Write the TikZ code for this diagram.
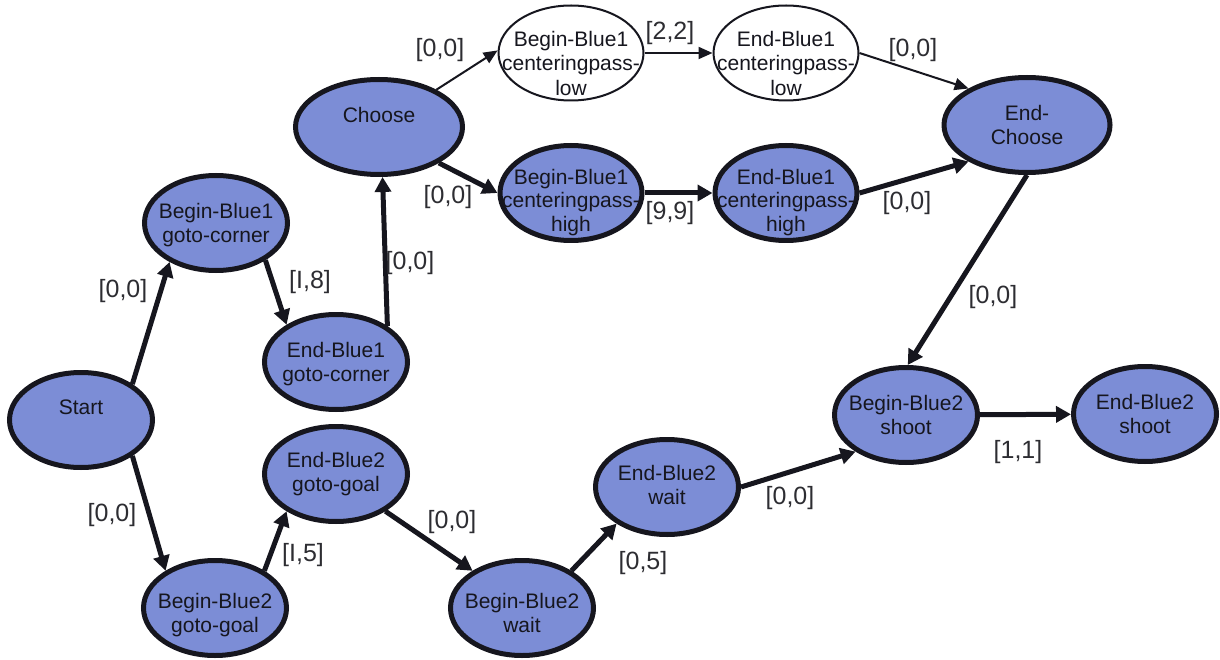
\documentclass[tikz,border=0pt]{standalone}
\usepackage{fontspec}
\setmainfont{Liberation Sans}
\usetikzlibrary{shapes.geometric,arrows.meta}
\definecolor{nodeblue}{RGB}{124,141,214}
\definecolor{inkc}{RGB}{22,22,30}
\definecolor{lblc}{RGB}{45,45,50}
% zero-size text box so the ellipse keeps its given size; #1 = visual offset upwards
\newcommand\ntxt[2][0]{\raisebox{\dimexpr #1pt - 8pt\relax}[0pt][0pt]{\makebox[0pt]{\begin{tabular}[c]{@{}c@{}}#2\end{tabular}}}}
\tikzset{
  bnode/.style={ellipse, draw=inkc, line width=5pt, fill=nodeblue, inner sep=0pt,
    minimum width=143pt, minimum height=95pt, text=inkc,
    font=\fontsize{21}{23.5}\selectfont},
  wnode/.style={ellipse, draw=inkc, line width=2pt, fill=white, inner sep=0pt,
    minimum width=145pt, minimum height=95pt, text=inkc,
    font=\fontsize{21}{24.5}\selectfont},
  thk/.style={draw=inkc, line width=5pt, -{Triangle[length=15pt,width=16pt]}},
  thn/.style={draw=inkc, line width=2pt, -{Triangle[length=14pt,width=12pt]}},
  lbl/.style={inner sep=0pt, text=lblc, font=\fontsize{25}{28}\selectfont}
}
\begin{document}
\begin{tikzpicture}[x=1pt,y=-1pt]
\useasboundingbox (0,0) rectangle (1220,660);
% nodes
\node[bnode] (start) at (81,420) {\ntxt[13]{Start}};
\node[bnode] (bgc) at (216,223) {\ntxt{Begin-Blue1\\goto-corner}};
\node[bnode] (egc) at (336,362) {\ntxt{End-Blue1\\goto-corner}};
\node[bnode, minimum width=167pt] (choose) at (379,127) {\ntxt[12]{Choose}};
\node[wnode] (bl) at (571,53) {\ntxt[-10]{Begin-Blue1\\centeringpass-\\low}};
\node[wnode] (el) at (786,53) {\ntxt[-10]{End-Blue1\\centeringpass-\\low}};
\node[bnode, minimum width=142pt] (bh) at (571,193) {\ntxt[-7]{Begin-Blue1\\centeringpass-\\high}};
\node[bnode, minimum width=142pt] (eh) at (786,193) {\ntxt[-7]{End-Blue1\\centeringpass-\\high}};
\node[bnode, minimum width=166pt] (echoose) at (1027,125) {\ntxt{End-\\Choose}};
\node[bnode] (bgg) at (215,608) {\ntxt[-5]{Begin-Blue2\\goto-goal}};
\node[bnode] (egg) at (336,474) {\ntxt[2]{End-Blue2\\goto-goal}};
\node[bnode] (bw) at (522,608) {\ntxt[-5]{Begin-Blue2\\wait}};
\node[bnode] (ew) at (667,487) {\ntxt[2]{End-Blue2\\wait}};
\node[bnode] (bs) at (906,415) {\ntxt{Begin-Blue2\\shoot}};
\node[bnode] (es) at (1145,414) {\ntxt{End-Blue2\\shoot}};
% connectors
\draw[thk] (start.35) -- (bgc.220);
\draw[thk] (bgc.-37) -- (egc.143);
\draw[thk] (egc.35) -- (choose.-86);
\draw[thn] (choose.33) -- (bl.178);
\draw[thk] (choose.-31) -- (bh.180);
\draw[thn] (bl) -- (el);
\draw[thk] (bh) -- (eh);
\draw[thn] (el.0) -- (echoose.148);
\draw[thk] (eh.0) -- (echoose.212);
\draw[thk] (echoose.-90) -- (bs.88);
\draw[thk] (start.-35) -- (bgg.143);
\draw[thk] (bgg.37) -- (egg.217);
\draw[thk] (egg.-37) -- (bw.143);
\draw[thk] (bw.37) -- (ew.216);
\draw[thk] (ew.0) -- (bs.216);
\draw[thk] (bs) -- (es);
% labels
\node[lbl] (l1) at (123,291) {[0,0]};
\node[lbl] (l2) at (310,282) {[I,8]};
\node[lbl] (l3) at (410,263) {[0,0]};
\node[lbl] (l4) at (440,50) {[0,0]};
\node[lbl] (l5) at (448,197) {[0,0]};
\node[lbl] (l6) at (670,33) {[2,2]};
\node[lbl] (l7) at (670,213) {[9,9]};
\node[lbl] (l8) at (913,50) {[0,0]};
\node[lbl] (l9) at (907,203) {[0,0]};
\node[lbl] (l10) at (993,297) {[0,0]};
\node[lbl] (l11) at (112,515) {[0,0]};
\node[lbl] (l12) at (303,555) {[I,5]};
\node[lbl] (l13) at (452,522) {[0,0]};
\node[lbl] (l14) at (643,563) {[0,5]};
\node[lbl] (l15) at (790,498) {[0,0]};
\node[lbl] (l16) at (1018,452) {[1,1]};
\end{tikzpicture}
\end{document}
